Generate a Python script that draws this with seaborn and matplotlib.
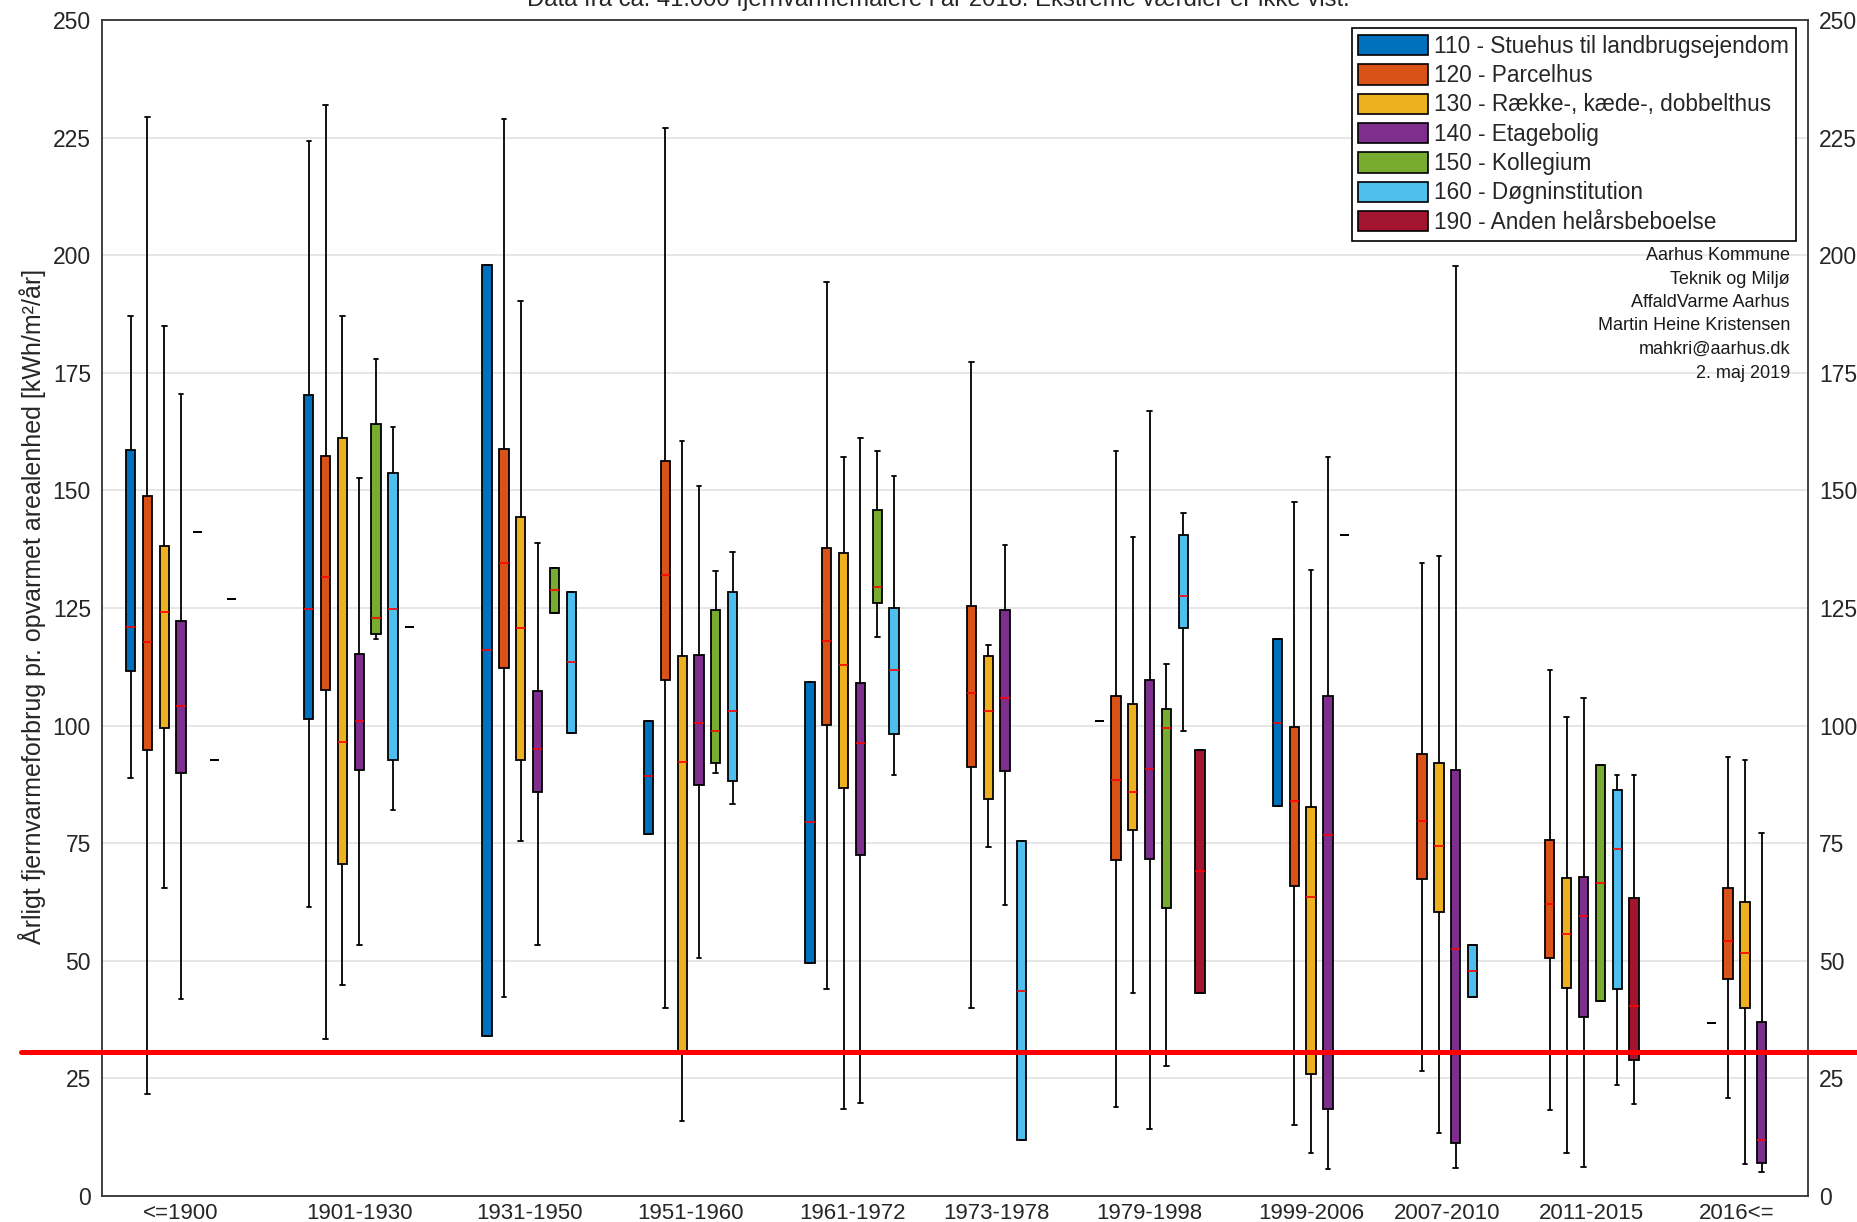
import numpy as np
import pandas as pd
import matplotlib
matplotlib.use("Agg")
import matplotlib.pyplot as plt
from matplotlib.patches import Patch
import seaborn as sns

periods = ["<=1900", "1901-1930", "1931-1950", "1951-1960", "1961-1972", "1973-1978",
           "1979-1998", "1999-2006", "2007-2010", "2011-2015", "2016<="]

categories = ["110 - Stuehus til landbrugsejendom", "120 - Parcelhus",
              "130 - Række-, kæde-, dobbelthus", "140 - Etagebolig", "150 - Kollegium",
              "160 - Døgninstitution", "190 - Anden helårsbeboelse"]
colors = ["#0072BD", "#D95319", "#EDB120", "#7E2F8E", "#77AC30", "#4DBEEE", "#A2142F"]

# (nedre whisker, q1, median, q3, øvre whisker) pr. periode; én værdi = kun en streg
stuehus = [(88.8, 111.6, 120.9, 158.6, 187.0), (61.4, 101.4, 124.7, 170.3, 224.3),
           (34.1, 34.1, 116.1, 198.0, 198.0), (77.0, 77.0, 89.2, 100.9, 100.9),
           (49.6, 49.6, 79.6, 109.3, 109.3), None, (100.9,),
           (82.9, 82.9, 100.6, 118.4, 118.4), None, None, (36.7,)]
parcelhus = [(21.7, 94.9, 117.7, 148.9, 229.3), (33.4, 107.6, 131.6, 157.4, 232.0),
             (42.4, 112.3, 134.5, 158.9, 228.9), (39.9, 109.6, 132.0, 156.2, 227.1),
             (44.1, 100.1, 118.0, 137.7, 194.3), (39.9, 91.1, 106.9, 125.4, 177.4),
             (19.0, 71.4, 88.5, 106.2, 158.4), (15.0, 66.0, 84.0, 99.8, 147.5),
             (26.6, 67.4, 79.7, 94.0, 134.6), (18.3, 50.5, 62.1, 75.6, 111.8),
             (20.8, 46.1, 54.3, 65.5, 93.4)]
raekkehus = [(65.4, 99.5, 124.2, 138.1, 185.0), (44.9, 70.5, 96.6, 161.1, 187.0),
             (75.4, 92.6, 120.7, 144.3, 190.3), (15.9, 30.5, 92.3, 114.7, 160.5),
             (18.5, 86.8, 112.8, 136.6, 157.2), (74.2, 84.3, 103.2, 114.7, 117.2),
             (43.1, 77.8, 85.9, 104.6, 140.0), (9.1, 25.9, 63.6, 82.8, 133.1),
             (13.3, 60.4, 74.4, 92.1, 136.0), (9.2, 44.2, 55.6, 67.6, 101.9),
             (6.8, 39.9, 51.7, 62.4, 92.7)]
etagebolig = [(41.8, 89.9, 104.2, 122.2, 170.5), (53.4, 90.5, 100.9, 115.3, 152.6),
              (53.4, 85.8, 95.1, 107.3, 138.8), (50.5, 87.4, 100.5, 115.0, 150.9),
              (19.7, 72.4, 96.4, 109.1, 161.2), (61.8, 90.3, 105.8, 124.5, 138.4),
              (14.2, 71.7, 90.8, 109.7, 166.8), (5.8, 18.5, 76.8, 106.2, 157.1),
              (6.0, 11.3, 52.6, 90.6, 197.6), (6.1, 38.0, 59.5, 67.9, 105.9),
              (5.2, 7.0, 11.9, 37.0, 77.1)]
kollegium = [(141.2,), (118.5, 119.5, 122.8, 164.2, 178.0), (123.9, 123.9, 128.9, 133.4, 133.4),
             (89.9, 92.0, 98.9, 124.5, 132.8), (118.8, 126.1, 129.5, 145.8, 158.4), None,
             (27.6, 61.3, 99.4, 103.6, 113.1), (140.6,), None,
             (41.4, 41.4, 66.5, 91.7, 91.7), None]
doegninst = [(92.6,), (82.0, 92.6, 124.7, 153.6, 163.4), (98.4, 98.4, 113.5, 128.4, 128.4),
             (83.4, 88.2, 103.2, 128.4, 136.9), (89.6, 98.2, 111.9, 125.0, 153.1),
             (11.9, 11.9, 43.6, 75.4, 75.4), (98.8, 120.8, 127.6, 140.6, 145.2), None,
             (42.2, 42.2, 47.9, 53.4, 53.4), (23.6, 44.0, 73.7, 86.4, 89.4), None]
anden = [(127.0,), (120.9,), None, None, None, None, (43.1, 43.1, 69.1, 94.8, 94.8),
         None, None, (19.6, 28.9, 40.3, 63.3, 89.6), None]

limit_line = 30.7

credits = ["Aarhus Kommune", "Teknik og Miljø", "AffaldVarme Aarhus",
           "Martin Heine Kristensen", "mahkri@aarhus.dk", "2. maj 2019"]

series = [stuehus, parcelhus, raekkehus, etagebolig, kollegium, doegninst, anden]

# placer boksene tæt i hver periode med et mellemrum mellem perioderne
gap = 4.6
box_rows, dash_rows, tick_pos = [], [], []
pos = 0.0
for g in range(len(periods)):
    group = []
    for cat, vals in zip(categories, series):
        v = vals[g]
        if v is None:
            continue
        target = box_rows if len(v) > 1 else dash_rows
        for value in v:
            target.append({"pos": pos, "value": value, "cat": cat})
        group.append(pos)
        pos += 1
    tick_pos.append(np.mean(group))
    pos += gap - 1
last_pos = pos - gap

box_df = pd.DataFrame(box_rows)
dash_df = pd.DataFrame(dash_rows)

sns.set_theme(style="whitegrid")
plt.rcParams["font.family"] = ["Liberation Sans", "DejaVu Sans"]

fig = plt.figure(figsize=(18.58, 12.22), dpi=100)
W, H = 1858, 1222
ax = fig.add_axes([102 / W, 1 - 1196 / H, 1706 / W, 1176 / H])

sns.boxplot(data=box_df, x="pos", y="value", hue="cat", hue_order=categories,
            palette=dict(zip(categories, colors)), native_scale=True, dodge=False,
            whis=(0, 100), width=0.55, saturation=1, linecolor="black", linewidth=1.3,
            medianprops=dict(color="red", linewidth=1.2), legend=False, ax=ax)
sns.boxplot(data=dash_df, x="pos", y="value", native_scale=True, whis=(0, 100),
            width=0.55, color="black", linecolor="black", linewidth=1.3,
            medianprops=dict(color="black", linewidth=1.3), ax=ax)

ax.set_xlim(-1.7, last_pos + 2.75)
ax.set_ylim(0, 250)
ax.set_yticks(range(0, 251, 25))
ax.set_xticks(tick_pos, periods)
ax.set_xlabel("")
ax.set_ylabel("")
ax.grid(axis="y", color="#e2e2e2", linewidth=1.2)
ax.grid(axis="x", visible=False)
for sp in ax.spines.values():
    sp.set_visible(True)
    sp.set_color("#333333")
    sp.set_linewidth(1.3)
ax.tick_params(axis="y", left=False, right=False, labelleft=True, labelright=True,
               length=0, pad=8, labelsize=16.5, labelcolor="#262626")
ax.tick_params(axis="x", length=0, pad=5, labelsize=16, labelcolor="#262626")

ax.axhline(limit_line, xmin=(21 - 102) / 1706, xmax=(W - 102) / 1706, color="red",
           linewidth=3.6, clip_on=False, zorder=6)

fig.text(32 / W, 1 - 606 / H, "Årligt fjernvarmeforbrug pr. opvarmet arealenhed [kWh/m²/år]",
         rotation=90, ha="center", va="center", fontsize=18, color="#262626")
fig.text(938 / W, 1 - 6 / H,
         "Data fra ca. 41.000 fjernvarmemålere i år 2018. Ekstreme værdier er ikke vist.",
         ha="center", va="baseline", fontsize=17.2, color="#262626")

handles = [Patch(facecolor=c, edgecolor="black", linewidth=1.2, label=l)
           for c, l in zip(colors, categories)]
leg = ax.legend(handles=handles, loc="upper right", bbox_to_anchor=(1796 / W, 1 - 28 / H),
                bbox_transform=fig.transFigure, fancybox=False, framealpha=1,
                edgecolor="black", fontsize=16.3, handlelength=3.05, handleheight=1.0,
                labelspacing=0.28, borderpad=0.3, handletextpad=0.3, borderaxespad=0)
leg.get_frame().set_linewidth(1.2)

fig.text(1790 / W, 1 - 247 / H, "\n".join(credits), ha="right", va="top",
         multialignment="right", fontsize=13, linespacing=1.5, color="#1a1a1a")

fig.savefig("out.png", dpi=100)
